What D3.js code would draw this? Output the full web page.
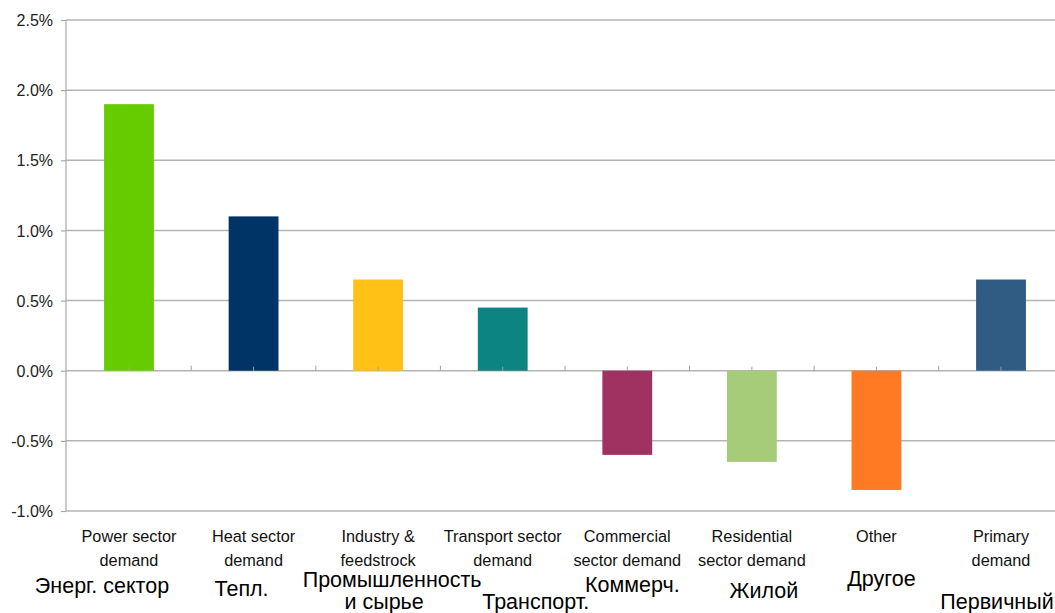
<!DOCTYPE html>
<html>
<head>
<meta charset="utf-8">
<script src="https://cdn.jsdelivr.net/npm/d3@7"></script>
<style>
  html, body { margin: 0; padding: 0; background: #fff; }
  svg { display: block; font-family: "Liberation Sans", Arial, sans-serif; }
</style>
</head>
<body>
<svg id="chart" width="1055" height="613"></svg>
<script>
// ---- data ----
const categories = ["Power sector demand", "Heat sector demand", "Industry & feedstrock",
  "Transport sector demand", "Commercial sector demand", "Residential sector demand",
  "Other", "Primary demand"];
const categoryLines = [["Power sector", "demand"], ["Heat sector", "demand"], ["Industry &", "feedstrock"],
  ["Transport sector", "demand"], ["Commercial", "sector demand"], ["Residential", "sector demand"],
  ["Other"], ["Primary", "demand"]];
const values = [0.019, 0.011, 0.0065, 0.0045, -0.006, -0.0065, -0.0085, 0.0065];
const colors = ["#66cc00", "#003366", "#ffc116", "#0c8481", "#a03262", "#a6cc7a", "#ff7a22", "#305b82"];
const ruLabels = [["Энерг. сектор"], ["Тепл."], ["Промышленность", "и сырье"], ["Транспорт."],
  ["Коммерч."], ["Жилой"], ["Другое"], ["Первичный"]];
const yTicks = [-0.01, -0.005, 0, 0.005, 0.01, 0.015, 0.02, 0.025];

// ---- layout (positions of the Russian annotations relative to category centre) ----
const ruLayout = [
  [[-27, 593]], [[-12, 596]], [[14, 587], [6, 609]], [[33, 609]],
  [[5, 592]], [[12, 598]], [[5, 586]], [[-4, 609]]
];

(function () {
const svg = d3.select("#chart");
const axisX = 66, mLeft = 66.7, mRight = 1063.3, mTop = 20, mBottom = 511;

const x = d3.scaleBand().domain(categories).range([mLeft, mRight])
  .paddingInner(0.6).paddingOuter(0.3);
const y = d3.scaleLinear().domain([-0.01, 0.025]).range([mBottom, mTop]);
const step = x.step();

// y ticks
const yAxis = d3.axisLeft(y).tickValues(yTicks).tickSize(5)
  .tickFormat(d => d3.format(".1%")(d).replace("\u2212", "-"));
const gy = svg.append("g").attr("transform", `translate(${axisX},0)`).call(yAxis);
gy.select(".domain").remove();
gy.selectAll(".tick line").attr("stroke", "#a8a8a8").attr("stroke-width", 1.2);
gy.selectAll(".tick text").attr("x", -13).attr("dy", "0.35em")
  .style("font-size", "16px").attr("fill", "#222");

// gridlines
svg.append("g").selectAll("line").data(yTicks).join("line")
  .attr("x1", axisX).attr("x2", 1055)
  .attr("y1", d => y(d)).attr("y2", d => y(d))
  .attr("stroke", "#b4b4b4").attr("stroke-width", 1.5);

// vertical axis line
svg.append("line").attr("x1", axisX).attr("x2", axisX)
  .attr("y1", y(0.025)).attr("y2", y(-0.01))
  .attr("stroke", "#a8a8a8").attr("stroke-width", 1.2);

// bars
svg.append("g").selectAll("rect").data(values).join("rect")
  .attr("x", (d, i) => x(categories[i]))
  .attr("width", x.bandwidth())
  .attr("y", d => y(Math.max(0, d)))
  .attr("height", d => Math.abs(y(d) - y(0)))
  .attr("fill", (d, i) => colors[i]);

// small tick marks on the zero line (centres and boundaries)
const tickG = svg.append("g");
categories.forEach((c, i) => {
  const cx = x(c) + x.bandwidth() / 2;
  tickG.append("line").attr("x1", cx).attr("x2", cx)
    .attr("y1", y(0)).attr("y2", y(0) - 4).attr("stroke", "#a0a0a0").attr("stroke-width", 1);
  const bx = mLeft + step * (i + 1);
  tickG.append("line").attr("x1", bx).attr("x2", bx)
    .attr("y1", y(0)).attr("y2", y(0) - 5).attr("stroke", "#a0a0a0").attr("stroke-width", 1);
});

// English category labels
const catG = svg.append("g");
categories.forEach((c, i) => {
  const cx = x(c) + x.bandwidth() / 2;
  const t = catG.append("text").attr("text-anchor", "middle")
    .style("font-size", "16.3px").attr("fill", "#111");
  categoryLines[i].forEach((ln, j) => {
    t.append("tspan").attr("x", cx).attr("y", 542 + j * 24).text(ln);
  });
});

// Russian annotations
const ruG = svg.append("g");
categories.forEach((c, i) => {
  const cx = x(c) + x.bandwidth() / 2;
  ruLabels[i].forEach((ln, j) => {
    const [dx, by] = ruLayout[i][j];
    ruG.append("text").attr("text-anchor", "middle")
      .attr("x", cx + dx).attr("y", by)
      .style("font-size", "21.5px").attr("fill", "#000").text(ln);
  });
});
})();
</script>
</body>
</html>
